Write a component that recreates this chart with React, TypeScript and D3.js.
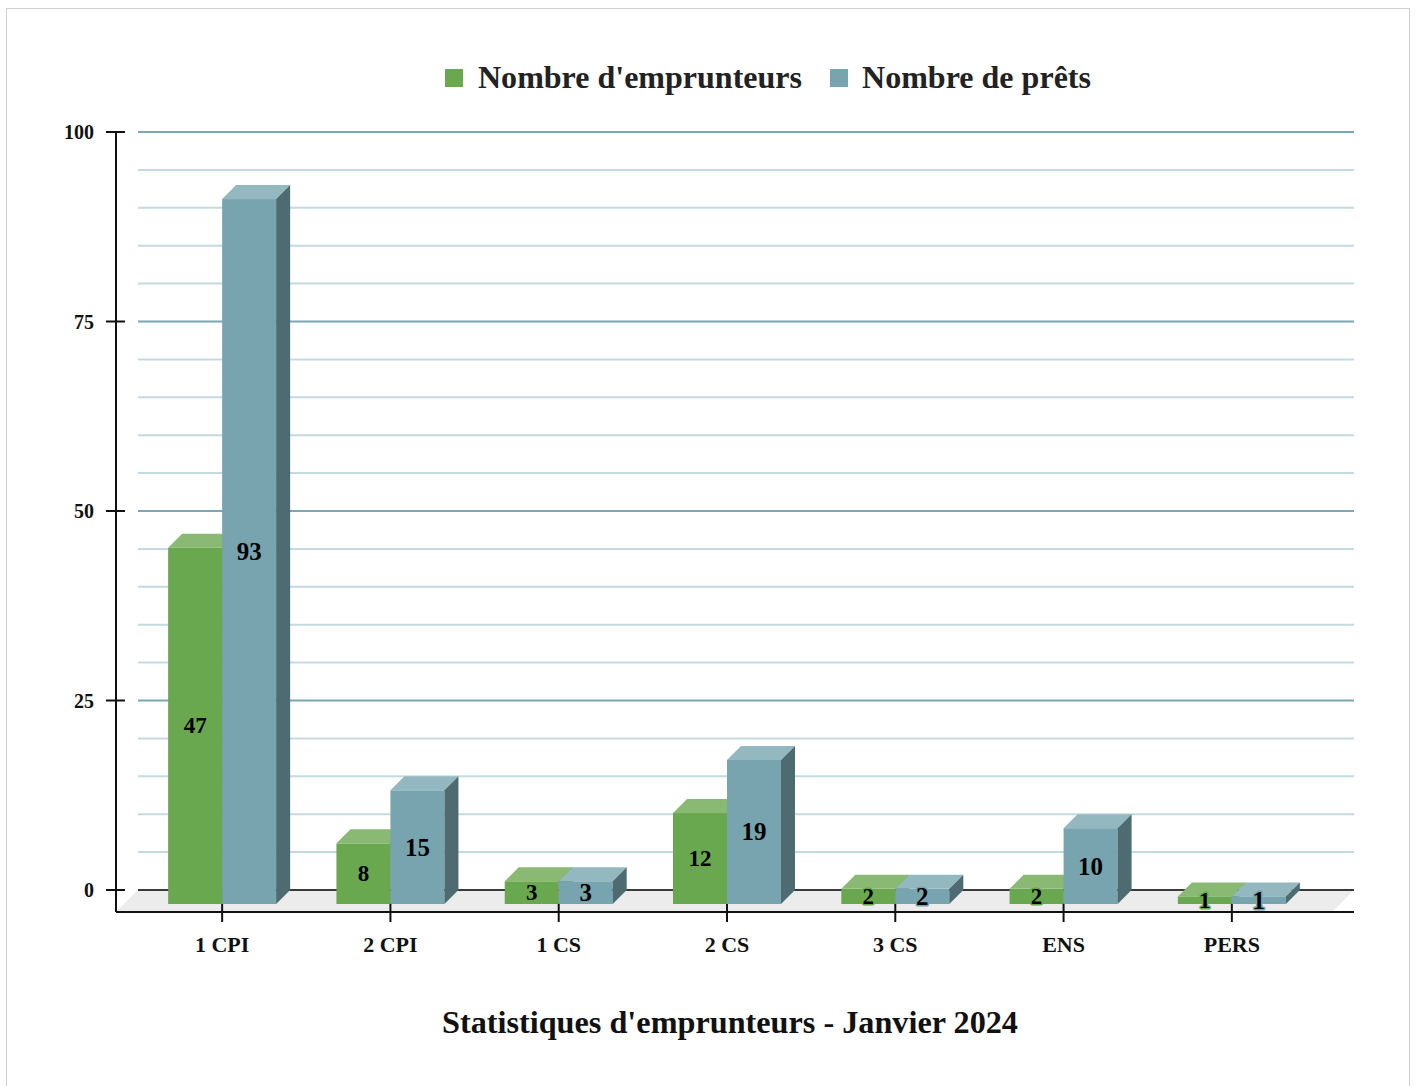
import React from 'react';
import * as d3 from 'd3';

// data
const categories = ['1 CPI', '2 CPI', '1 CS', '2 CS', '3 CS', 'ENS', 'PERS'];
const emprunteurs = [47, 8, 3, 12, 2, 2, 1];
const prets = [93, 15, 3, 19, 2, 10, 1];
const seriesNames = ["Nombre d'emprunteurs", 'Nombre de prêts'];
const yTicks = [0, 25, 50, 75, 100];
const title = "Statistiques d'emprunteurs - Janvier 2024";

const W = 1418, H = 1086;
const FONT = 'Liberation Serif, Times New Roman, serif';
const DEPTH = 14;     // bar depth offset
const WALL = 22;      // floor depth offset

const palette = [
  { front: '#6aa84f', top: '#89b972', side: '#4d7b39', label: 23 },
  { front: '#77a4ae', top: '#93b8bf', side: '#4e6b72', label: 25 },
];

export default function App() {
  const y = d3.scaleLinear().domain([0, 100]).range([890, 132]);
  const x = d3.scaleBand<string>().domain(categories).range([138, 1316]);
  const barW = 54;
  const left = 116, right = 1354;
  const y0 = y(0);
  const minorTicks = d3.range(5, 100, 5).filter(v => v % 25 !== 0);
  const center = (c: string) => (x(c) as number) + x.bandwidth() / 2;

  const bars = categories.map((c, i) => {
    const cx = center(c);
    return [emprunteurs[i], prets[i]].map((v, s) => {
      const x0 = cx - barW + s * barW;
      const x1 = x0 + barW;
      const yb = y(0) + DEPTH;
      const yt = y(v) + DEPTH;
      const p = palette[s];
      return (
        <g key={c + s}>
          <rect x={x0} y={yt} width={barW} height={yb - yt} fill={p.front} />
          <polygon
            points={`${x0},${yt} ${x0 + DEPTH},${yt - DEPTH} ${x1 + DEPTH},${yt - DEPTH} ${x1},${yt}`}
            fill={p.top}
          />
          <polygon
            points={`${x1},${yt} ${x1 + DEPTH},${yt - DEPTH} ${x1 + DEPTH},${yb - DEPTH} ${x1},${yb}`}
            fill={p.side}
          />
        </g>
      );
    });
  });

  const labels = categories.map((c, i) => {
    const cx = center(c);
    return [emprunteurs[i], prets[i]].map((v, s) => {
      const x0 = cx - barW + s * barW;
      const yt = y(v) + DEPTH;
      const yb = y(0) + DEPTH;
      const p = palette[s];
      return (
        <text
          key={'l' + c + s}
          x={x0 + barW / 2}
          y={(yt + yb) / 2}
          textAnchor="middle"
          dominantBaseline="central"
          fontFamily={FONT}
          fontSize={p.label}
          fontWeight="bold"
          fill="#000"
          stroke={p.front}
          strokeWidth={3}
          strokeLinejoin="round"
          style={{ paintOrder: 'stroke' }}
        >
          {v}
        </text>
      );
    });
  });

  return (
    <svg width={W} height={H} fontFamily={FONT} style={{ position: 'absolute', left: 0, top: 0 }}>
      <rect x={0} y={0} width={W} height={H} fill="#fff" />
      <rect x={6.5} y={8.5} width={1403} height={1090} fill="none" stroke="#cfcfcf" />

      {/* legend */}
      <g fontFamily={FONT} fontWeight="bold" fill="#222">
        <rect x={445} y={69} width={18} height={18} fill={palette[0].front} />
        <text x={478} y={77} dominantBaseline="central" fontSize={31}
          textLength={324} lengthAdjust="spacingAndGlyphs">{seriesNames[0]}</text>
        <rect x={830} y={69} width={18} height={18} fill={palette[1].front} />
        <text x={862} y={77} dominantBaseline="central" fontSize={31}
          textLength={229} lengthAdjust="spacingAndGlyphs">{seriesNames[1]}</text>
      </g>

      {/* back wall gridlines */}
      {minorTicks.map(v => (
        <line key={'m' + v} x1={138} x2={right} y1={y(v)} y2={y(v)} stroke="#c3dbe0" strokeWidth={2} />
      ))}
      {yTicks.filter(v => v > 0).map(v => (
        <line key={'g' + v} x1={138} x2={right} y1={y(v)} y2={y(v)} stroke="#78a8b2" strokeWidth={2} />
      ))}

      {/* floor */}
      <polygon
        points={`${left},${y0 + WALL} ${left + WALL},${y0} ${right},${y0} ${right - WALL},${y0 + WALL}`}
        fill="#ececec"
      />
      <line x1={138} x2={right} y1={y0} y2={y0} stroke="#3a3a3a" strokeWidth={2} />
      <line x1={left} x2={right} y1={y0 + WALL} y2={y0 + WALL} stroke="#111" strokeWidth={2} />

      {/* y axis */}
      <line x1={left} x2={left} y1={y(100)} y2={y0 + WALL} stroke="#111" strokeWidth={2} />
      {yTicks.map(v => (
        <g key={'t' + v}>
          <line x1={106} x2={125} y1={y(v)} y2={y(v)} stroke="#111" strokeWidth={2} />
          <text x={94} y={y(v)} textAnchor="end" dominantBaseline="central" fontFamily={FONT}
            fontSize={20} fontWeight="bold" fill="#111">
            {v}
          </text>
        </g>
      ))}

      {/* x axis ticks */}
      {categories.map(c => (
        <line key={'x' + c} x1={center(c)} x2={center(c)} y1={903} y2={922} stroke="#111" strokeWidth={2} />
      ))}

      {bars}
      {labels}

      {categories.map(c => (
        <text key={'xl' + c} x={center(c)} y={944} textAnchor="middle" dominantBaseline="central"
          fontFamily={FONT} fontSize={22} fontWeight="bold" fill="#111">{c}</text>
      ))}

      <text x={730} y={1022} textAnchor="middle" dominantBaseline="central" fontFamily={FONT} fontSize={31}
        fontWeight="bold" fill="#111" textLength={576} lengthAdjust="spacingAndGlyphs">{title}</text>
    </svg>
  );
}
